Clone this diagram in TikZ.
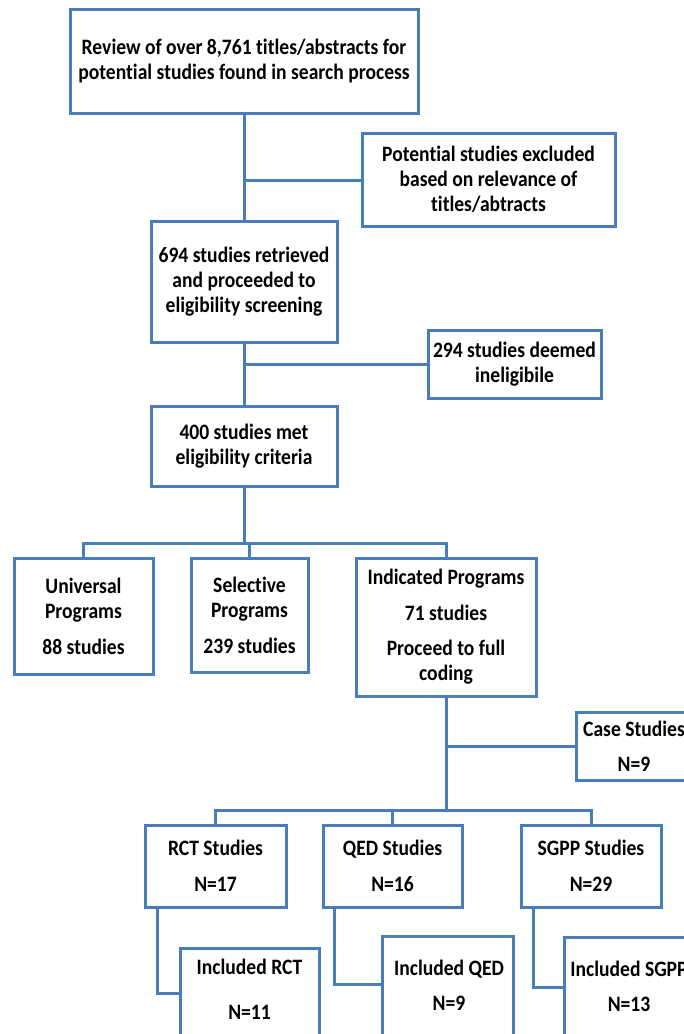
\documentclass[tikz,border=0pt]{standalone}
\usepackage{fontspec}
\setmainfont{Carlito}[FakeStretch=0.89, Ligatures=NoCommon]
\usetikzlibrary{calc}
\definecolor{boxblue}{HTML}{4A7EBB}
\tikzset{
  box/.style={draw=boxblue, line width=3pt, inner sep=0pt, align=center,
    font=\fontsize{22}{25}\selectfont\bfseries},
  txt/.style={inner sep=0pt, align=center, font=\fontsize{22}{25}\selectfont\bfseries},
  link/.style={draw=boxblue, line width=3pt}
}
\begin{document}
\begin{tikzpicture}[x=1pt,y=-1pt]
\useasboundingbox (0,0) rectangle (684,1034);
\clip (0,0) rectangle (684,1034);
% boxes
\node[box, minimum width=348, minimum height=104] (b1) at (244,61)
  {Review of over 8,761 titles/abstracts for\\potential studies found in search process};
\node[box, minimum width=253, minimum height=93] (ex1) at (488.5,179.5)
  {Potential studies excluded\\based on relevance of\\titles/abtracts};
\node[box, minimum width=186, minimum height=121] (b2) at (244,281.5)
  {694 studies retrieved\\and proceeded to\\eligibility screening};
\node[box, minimum width=173, minimum height=68] (ex2) at (514.5,364)
  {294 studies deemed\\ineligibile};
\node[box, minimum width=186, minimum height=80] (b3) at (244,446)
  {400 studies met\\eligibility criteria};
\node[box, minimum width=139, minimum height=116] (uni) at (83.5,616)
  {Universal\\Programs\\[11pt]88 studies};
\node[box, minimum width=117, minimum height=114] (sel) at (249.5,615)
  {Selective\\Programs\\[11pt]239 studies};
\node[box, minimum width=180, minimum height=138] (ind) at (446,627)
  {Indicated Programs\\[11pt]71 studies\\[10pt]Proceed to full\\coding};
\node[box, minimum width=116, minimum height=68] (case) at (634,746)
  {Case Studies\\[10pt]N=9};
\node[box, minimum width=141, minimum height=82] (rct) at (215.5,866)
  {RCT Studies\\[11pt]N=17};
\node[box, minimum width=139, minimum height=82] (qed) at (392.5,866)
  {QED Studies\\[11pt]N=16};
\node[box, minimum width=140, minimum height=82] (sgpp) at (591,866)
  {SGPP Studies\\[11pt]N=29};
\node[box, minimum width=139, minimum height=102] (incR) at (249.5,999) {};
\node[box, minimum width=131, minimum height=114] (incQ) at (447.5,993) {};
\node[box, minimum width=132, minimum height=113] (incS) at (630,993.5) {};
\node[txt] (incRt) at (249.5,989.5) {Included RCT\\[20pt]N=11};
\node[txt] (incQt) at (449,985.5) {Included QED\\[10pt]N=9};
\node[txt] (incSt) at (629,986.5) {Included SGPP\\[10pt]N=13};
% junctions
\coordinate (j1) at (244,180);
\coordinate (j2) at (244,364);
\coordinate (j3) at (244,543);
\coordinate (j4) at (446,746);
\coordinate (j5) at (446,810);
% connectors
\draw[link] (b1.south) -- (b2.north);
\draw[link] (j1) -- (j1 -| ex1.west);
\draw[link] (b2.south) -- (b3.north);
\draw[link] (j2) -- (j2 -| ex2.west);
\draw[link] (b3.south) -- (j3);
\draw[link] (uni.north) |- (j3) -| (ind.north);
\draw[link] (sel.north) -- (sel.north |- j3);
\draw[link] (ind.south) -- (j5);
\draw[link] (j4) -- (j4 -| case.west);
\draw[link] (rct.north) |- (j5) -| (sgpp.north);
\draw[link] (qed.north) -- (qed.north |- j5);
\draw[link] ($(rct.south west)+(14,0)$) |- ($(incR.west)+(0,-6)$);
\draw[link] ($(qed.south west)+(13,0)$) |- ($(incQ.west)+(0,-9)$);
\draw[link] ($(sgpp.south west)+(14,0)$) |- ($(incS.west)+(0,-6.5)$);
\end{tikzpicture}
\end{document}
